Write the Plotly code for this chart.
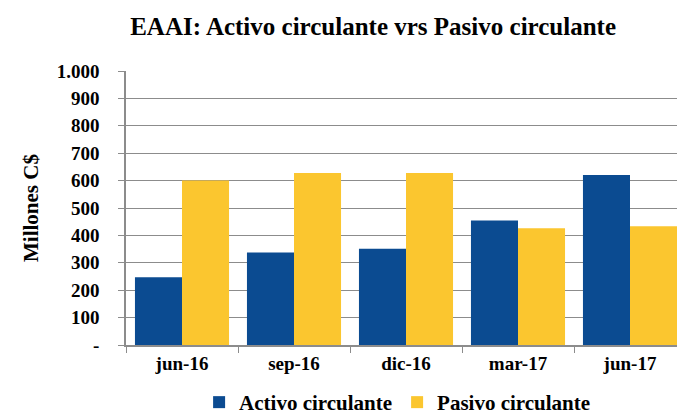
import plotly.graph_objects as go

periodos = ["jun-16", "sep-16", "dic-16", "mar-17", "jun-17"]
activo = [247, 338, 351, 454, 620]
pasivo = [600, 628, 628, 426, 433]
y_ticks = [0, 100, 200, 300, 400, 500, 600, 700, 800, 900, 1000]
y_labels = ["-", "100", "200", "300", "400", "500", "600", "700", "800", "900", "1.000"]

FONT = "Liberation Serif, serif"
GRIS = "#8c8c8c"

fig = go.Figure()
fig.add_trace(go.Bar(x=periodos, y=activo, name="Activo circulante",
                     marker=dict(color="#0B4B91", line=dict(width=0))))
fig.add_trace(go.Bar(x=periodos, y=pasivo, name="Pasivo circulante",
                     marker=dict(color="#FBC62F", line=dict(width=0))))

fig.update_layout(
    width=685, height=419,
    barmode="group", bargap=0.16, bargroupgap=0,
    plot_bgcolor="white", paper_bgcolor="white",
    margin=dict(l=118, r=7, t=63, b=82, autoexpand=False),
    font=dict(family=FONT, color="black", weight="bold"),
    title=dict(text="EAAI: Activo circulante vrs Pasivo circulante",
               x=0.533, xanchor="center", y=0.957, yanchor="middle",
               font=dict(size=25, family=FONT, weight="bold")),
    legend=dict(orientation="h", x=0.485, xanchor="center", y=-0.135, yanchor="top",
                font=dict(size=21, family=FONT, weight="bold"), itemwidth=30,
                traceorder="normal"),
)
fig.update_xaxes(
    showline=True, linecolor=GRIS, linewidth=1.5,
    ticks="outside", tickson="boundaries", ticklen=6, tickcolor=GRIS,
    tickfont=dict(size=19, family=FONT, weight="bold"), showgrid=False, automargin=False,
)
fig.update_yaxes(
    range=[0, 1000], tickvals=y_ticks, ticktext=y_labels,
    showline=True, linecolor=GRIS, linewidth=1.5,
    ticks="outside", ticklen=6, tickcolor=GRIS, ticklabelstandoff=15,
    showgrid=True, gridcolor=GRIS, gridwidth=1.2,
    tickfont=dict(size=19, family=FONT, weight="bold"), automargin=False,
    title=dict(text="Millones C$", font=dict(size=21, family=FONT, weight="bold"), standoff=12),
)

fig.write_html("out.html")
